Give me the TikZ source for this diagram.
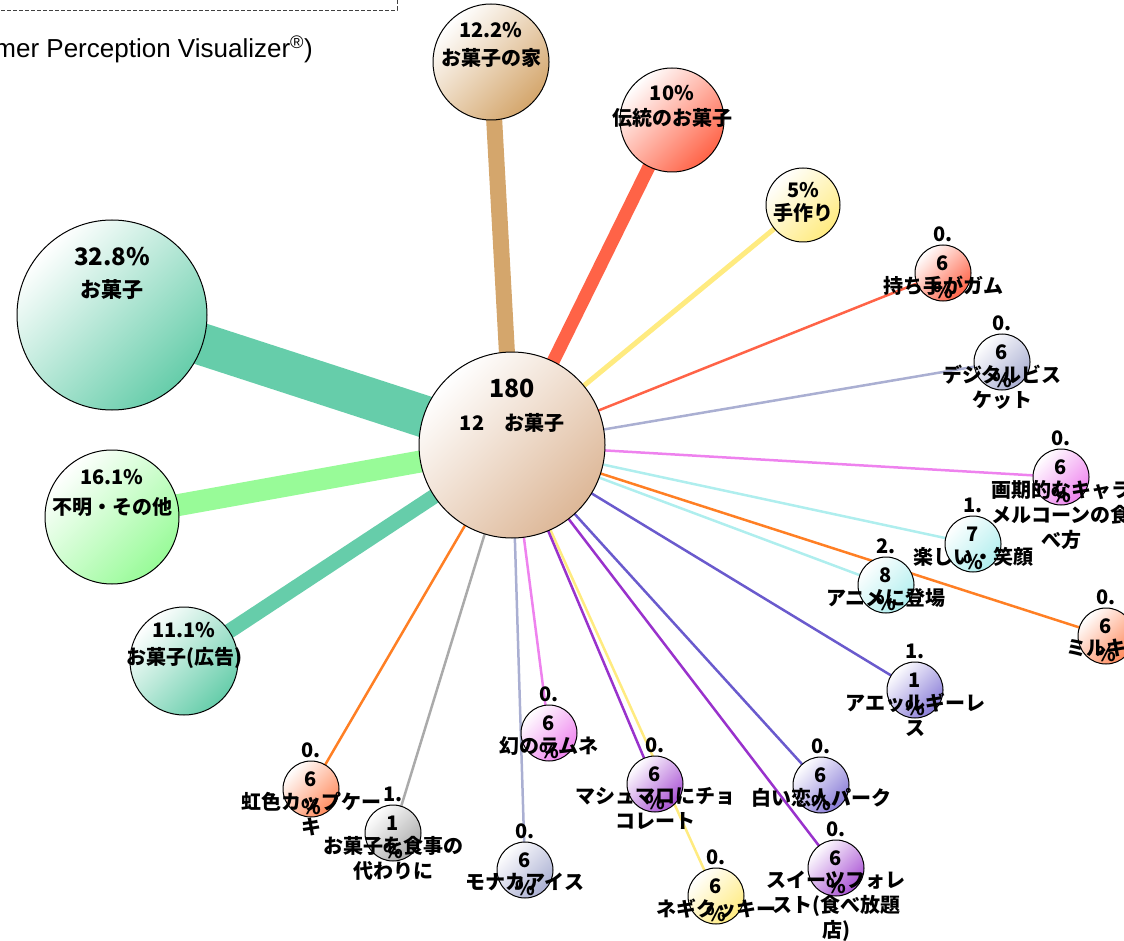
\documentclass[tikz,border=0pt]{standalone}
\usepackage{fontspec}
\setmainfont{Noto Sans CJK JP}
\newfontfamily\captionfont{Liberation Sans}
\usetikzlibrary{positioning,backgrounds}
\definecolor{cAqua}{HTML}{66CDAA}
\definecolor{cGreen}{HTML}{98FB98}
\definecolor{cTan}{HTML}{D4A66C}
\definecolor{cCore}{HTML}{DDB797}
\definecolor{cTomato}{HTML}{FF6347}
\definecolor{cYellow}{HTML}{FFEB80}
\definecolor{cLav}{HTML}{AAAFD2}
\definecolor{cViolet}{HTML}{EE82EE}
\definecolor{cTurq}{HTML}{AFEEEE}
\definecolor{cOrange}{HTML}{FF7F24}
\definecolor{cCoral}{HTML}{FF8A5C}
\definecolor{cSlate}{HTML}{6A5ACD}
\definecolor{cOrchid}{HTML}{9932CC}
\definecolor{cGray}{HTML}{AAAAAA}
\tikzset{
    cpv/.style={
        x=1pt, y=-1pt,
        % Stile per le bolle (cerchio sfumato)
        bubble/.style={draw, circle, line width=1pt, inner sep=0pt,
                       minimum size=##1},
        tint/.style={top color=white, bottom color=##1, shading angle=45},
        % Stile per percentuali e nomi
        bigtxt/.style={font=\bfseries\fontsize{##1}{##1}\selectfont,
                       inner sep=0pt},
        pct/.style={font=\bfseries\fontsize{20}{28.5}\selectfont,
                    align=center, inner sep=0pt},
        namelab/.style={font=\bfseries\fontsize{20}{25}\selectfont,
                        align=center, inner sep=0pt, anchor=north},
        % Stile per i collegamenti
        link/.style={line width=##1},
        link/.default=2.5pt
    }
}

\begin{document}
\begin{tikzpicture}[cpv]
\useasboundingbox (0,0) rectangle (1124,941);
\clip (0,0) rectangle (1124,941);
\draw[line width=0.8pt, black!75, dash pattern=on 4pt off 2pt]
    (-5,10) -- (397,10) -- (397,-5);
\node[anchor=base east, inner sep=0pt, font=\captionfont\fontsize{26}{26}\selectfont]
    (caption) at (313,58) {mer Perception Visualizer\textsuperscript{®})};

% nodo centrale e bolle grandi
\node[bubble=186pt, tint=cCore] (core) at (512,445) {};
\node[bubble=190pt, tint=cAqua] (snack) at (112,315) {};
\node[bubble=134pt, tint=cGreen] (other) at (112,517) {};
\node[bubble=108pt, tint=cAqua] (advert) at (184,661) {};
\node[bubble=116pt, tint=cTan] (house) at (491,62) {};
\node[bubble=104pt, tint=cTomato] (trad) at (672,120) {};
\node[bubble=74pt, tint=cYellow] (hand) at (803,205) {};
% bolle piccole
\node[bubble=56pt, tint=cTomato] (gum) at (943,273) {};
\node[bubble=56pt, tint=cLav] (biscuit) at (1002,362) {};
\node[bubble=56pt, tint=cViolet] (caramel) at (1061,477) {};
\node[bubble=56pt, tint=cTurq] (smile) at (973,544) {};
\node[bubble=56pt, tint=cCoral] (milky) at (1106,636) {};
\node[bubble=56pt, tint=cTurq] (anime) at (886,585) {};
\node[bubble=56pt, tint=cSlate!80] (allergy) at (915,690) {};
\node[bubble=56pt, tint=cSlate!80] (park) at (821,785) {};
\node[bubble=56pt, tint=cOrchid!85] (forest) at (836,868) {};
\node[bubble=56pt, tint=cYellow] (negi) at (716,896) {};
\node[bubble=56pt, tint=cOrchid!85] (marsh) at (655,784) {};
\node[bubble=56pt, tint=cViolet] (ramune) at (549,733) {};
\node[bubble=56pt, tint=cLav] (monaka) at (525,870) {};
\node[bubble=56pt, tint=cGray] (meal) at (393,833) {};
\node[bubble=56pt, tint=cCoral] (rainbow) at (311,789) {};

% testi
\node[bigtxt=25] (core-n) at ([yshift=57pt]core.center) {180};
\node[bigtxt=20] (core-l) at ([yshift=22pt]core.center) {12\quad お菓子};
\node[bigtxt=24] (snack-p) at ([yshift=58pt]snack.center) {32.8\%};
\node[bigtxt=21] (snack-l) at ([yshift=25pt]snack.center) {お菓子};
\node[bigtxt=20] (other-p) at ([yshift=40pt]other.center) {16.1\%};
\node[bigtxt=20] (other-l) at ([yshift=10pt]other.center) {不明・その他};
\node[bigtxt=20] (advert-p) at ([yshift=31pt]advert.center) {11.1\%};
\node[bigtxt=20] (advert-l) at ([yshift=3pt]advert.center) {お菓子(広告)};
\node[bigtxt=20] (house-p) at ([yshift=32pt]house.center) {12.2\%};
\node[bigtxt=20] (house-l) at ([yshift=4pt]house.center) {お菓子の家};
\node[bigtxt=20] (trad-p) at ([yshift=27pt]trad.center) {10\%};
\node[bigtxt=20] (trad-l) at ([yshift=2pt]trad.center) {伝統のお菓子};
\node[bigtxt=20] (hand-p) at ([yshift=15pt]hand.center) {5\%};
\node[bigtxt=20] (hand-l) at ([yshift=-8pt]hand.center) {手作り};

\node[pct] (gum-p) at ([yshift=10pt]gum.center) {0.\\6\\\%};
\node[namelab] (gum-l) at ([yshift=-3pt]gum.center) {持ち手がガム};
\node[pct] (biscuit-p) at ([yshift=10pt]biscuit.center) {0.\\6\\\%};
\node[namelab] (biscuit-l) at ([yshift=-3pt]biscuit.center) {デジタルビス\\ケット};
\node[pct] (caramel-p) at ([yshift=10pt]caramel.center) {0.\\6\\\%};
\node[namelab] (caramel-l) at ([yshift=-3pt]caramel.center) {画期的なキャラ\\メルコーンの食\\べ方};
\node[pct] (smile-p) at ([yshift=10pt]smile.center) {1.\\7\\\%};
\node[namelab] (smile-l) at ([yshift=-3pt]smile.center) {楽しい・笑顔};
\node[pct] (milky-p) at ([yshift=10pt]milky.center) {0.\\6\\\%};
\node[namelab] (milky-l) at ([yshift=-3pt]milky.center) {ミルキー};
\node[pct] (anime-p) at ([yshift=10pt]anime.center) {2.\\8\\\%};
\node[namelab] (anime-l) at ([yshift=-3pt]anime.center) {アニメに登場};
\node[pct] (allergy-p) at ([yshift=10pt]allergy.center) {1.\\1\\\%};
\node[namelab] (allergy-l) at ([yshift=-3pt]allergy.center) {アエッルギーレ\\ス};
\node[pct] (park-p) at ([yshift=10pt]park.center) {0.\\6\\\%};
\node[namelab] (park-l) at ([yshift=-3pt]park.center) {白い恋人パーク};
\node[pct] (forest-p) at ([yshift=10pt]forest.center) {0.\\6\\\%};
\node[namelab] (forest-l) at ([yshift=-3pt]forest.center) {スイーツフォレ\\スト(食べ放題\\店)};
\node[pct] (negi-p) at ([yshift=10pt]negi.center) {0.\\6\\\%};
\node[namelab] (negi-l) at ([yshift=-3pt]negi.center) {ネギクッキー};
\node[pct] (marsh-p) at ([yshift=10pt]marsh.center) {0.\\6\\\%};
\node[namelab] (marsh-l) at ([yshift=-3pt]marsh.center) {マシュマロにチョ\\コレート};
\node[pct] (ramune-p) at ([yshift=10pt]ramune.center) {0.\\6\\\%};
\node[namelab] (ramune-l) at ([yshift=-3pt]ramune.center) {幻のラムネ};
\node[pct] (monaka-p) at ([yshift=10pt]monaka.center) {0.\\6\\\%};
\node[namelab] (monaka-l) at ([yshift=-3pt]monaka.center) {モナカアイス};
\node[pct] (meal-p) at ([yshift=10pt]meal.center) {1.\\1\\\%};
\node[namelab] (meal-l) at ([yshift=-3pt]meal.center) {お菓子を食事の\\代わりに};
\node[pct] (rainbow-p) at ([yshift=10pt]rainbow.center) {0.\\6\\\%};
\node[namelab] (rainbow-l) at ([yshift=-3pt]rainbow.center) {虹色カップケー\\キ};

% collegamenti dal centro
\begin{scope}[on background layer]
\draw[link=42pt, cAqua] (core.center) -- (snack.center);
\draw[link=22pt, cGreen] (core.center) -- (other.center);
\draw[link=15pt, cAqua] (core.center) -- (advert.center);
\draw[link=16pt, cTan] (core.center) -- (house.center);
\draw[link=13pt, cTomato] (core.center) -- (trad.center);
\draw[link=5pt, cYellow] (core.center) -- (hand.center);
\draw[link, cTomato] (core.center) -- (gum.center);
\draw[link, cLav] (core.center) -- (biscuit.center);
\draw[link, cViolet] (core.center) -- (caramel.center);
\draw[link, cTurq] (core.center) -- (smile.center);
\draw[link, cOrange] (core.center) -- (milky.center);
\draw[link, cTurq] (core.center) -- (anime.center);
\draw[link, cSlate] (core.center) -- (allergy.center);
\draw[link, cSlate] (core.center) -- (park.center);
\draw[link, cOrchid] (core.center) -- (forest.center);
\draw[link, cYellow] (core.center) -- (negi.center);
\draw[link, cOrchid] (core.center) -- (marsh.center);
\draw[link, cViolet] (core.center) -- (ramune.center);
\draw[link, cLav] (core.center) -- (monaka.center);
\draw[link, cGray] (core.center) -- (meal.center);
\draw[link, cOrange] (core.center) -- (rainbow.center);
\end{scope}
\end{tikzpicture}
\end{document}
